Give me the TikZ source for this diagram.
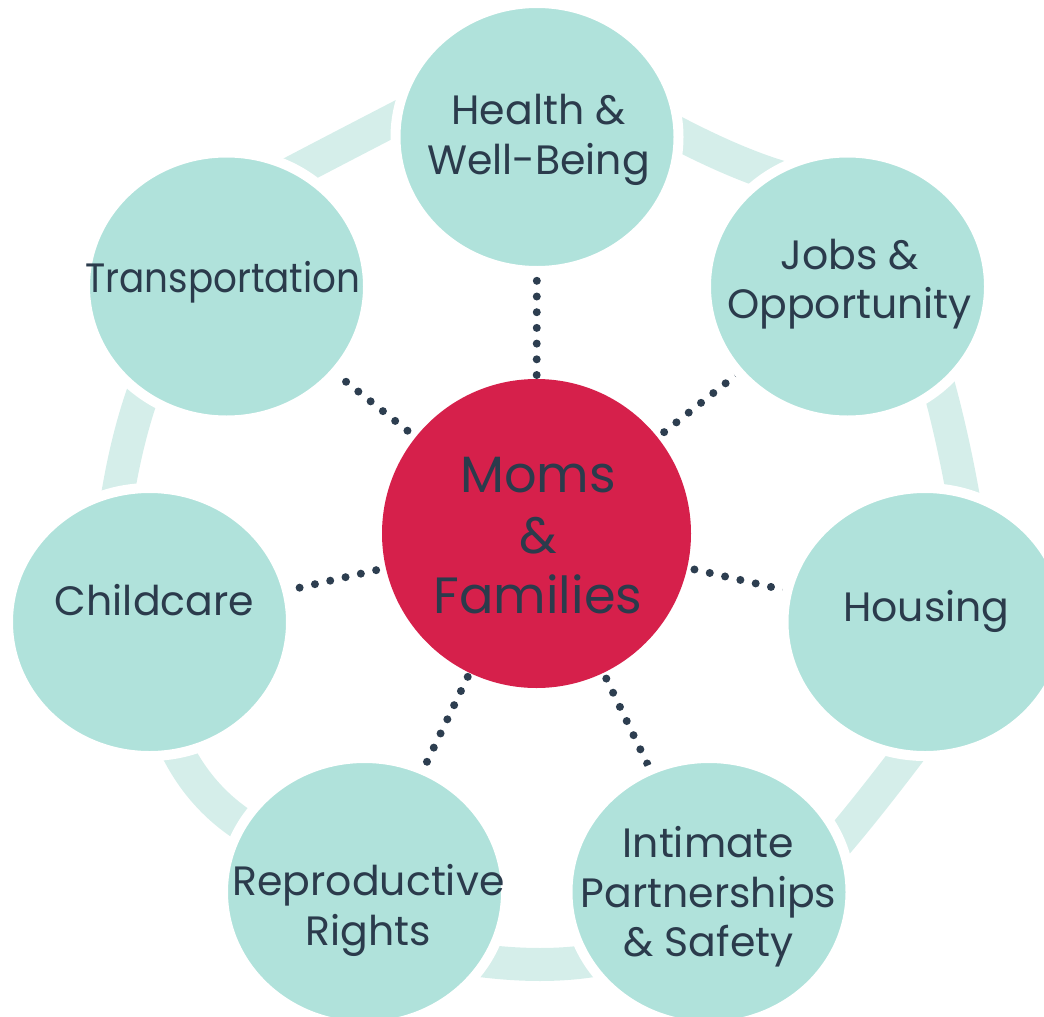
\documentclass[tikz,border=0pt]{standalone}
\usepackage{fontspec}
\usepackage{graphicx}
\setmainfont{Poppins}
\usetikzlibrary{shapes.geometric,calc}
\definecolor{circfill}{HTML}{B0E2DB}
\definecolor{ringc}{HTML}{D5EEEA}
\definecolor{redc}{HTML}{D6204B}
\definecolor{txtc}{HTML}{2B3B4C}
\definecolor{dotc}{HTML}{2D3E50}
\pgfdeclarelayer{background}
\pgfsetlayers{background,main}
% quadratic arc through three points (start, middle, end), extended at both ends
\newcommand\ringarc[3]{%
  \path ($2*(#2)-0.5*(#1)-0.5*(#3)$) coordinate (rc);
  \path ($1.8225*(#1)-0.945*(rc)+0.1225*(#3)$) coordinate (ra);
  \path ($0.1225*(#1)-0.945*(rc)+1.8225*(#3)$) coordinate (rb);
  \path ($1.945*(rc)-0.4725*(#1)-0.4725*(#3)$) coordinate (rq);
  \draw[ringseg] (ra) .. controls ($(ra)!0.6667!(rq)$) and ($(rb)!0.6667!(rq)$) .. (rb);
}
\begin{document}
\begin{tikzpicture}[x=1pt,y=-1pt,
  outer/.style={ellipse, minimum width=283pt, minimum height=268pt, inner sep=0pt,
    fill=circfill, draw=white, line width=10pt},
  hub/.style={circle, minimum size=309pt, inner sep=0pt, fill=redc},
  lbl/.style={text=txtc, align=center, inner sep=0pt, font=\fontsize{41}{49.5}\selectfont},
  hublbl/.style={text=txtc, align=center, inner sep=0pt, font=\fontsize{51}{60.5}\selectfont},
  ringseg/.style={draw=ringc, line width=33pt},
  dotline/.style={draw=dotc, line width=8pt, line cap=round, dash pattern=on 0pt off 15.7pt}]
\useasboundingbox (0,0) rectangle (1044,1017);

% circles
\node[outer] (health) at (537,137) {};
\node[outer] (jobs) at (847.5,286.5) {};
\node[outer] (housing) at (925,622) {};
\node[outer] (intimate) at (709,892) {};
\node[outer] (repro) at (364.5,892) {};
\node[outer] (child) at (149.5,622) {};
\node[outer] (trans) at (226.5,286.5) {};
\node[hub] (hub) at (536.5,533.5) {};

% labels
\node[lbl] (healthtxt) at (538.5,140) {Health \&\\Well-Being};
\node[lbl] (jobstxt) at (849.5,284) {Jobs \&\\Opportunity};
\node[lbl, anchor=base] (housingtxt) at (926.5,621) {Housing};
\node[lbl] (intimatetxt) at (708.5,897) {Intimate\\Partnerships\\\& Safety};
\node[lbl] (reprotxt) at (368.5,910.5) {Reproductive\\Rights};
\node[lbl, anchor=base] (childtxt) at (154.5,615) {Childcare};
\node[lbl, anchor=base] (transtxt) at (223,292) {\scalebox{0.91}[1]{Transportation}};
\node[hublbl] (hubtxt) at (538,536) {Moms\\\&\\Families};

\begin{pgfonlayer}{background}
% ring segments
\ringarc{297,170}{343,146}{397,118}
\ringarc{677,133}{727,157}{771,174}
\ringarc{939,387}{952,440}{963,495}
\ringarc{908,754}{870,803}{838,842}
\ringarc{590,961}{540,964.5}{484,961}
\ringarc{243,825}{206,793}{178,752}
\ringarc{118,493}{129,440}{143,393}
% dotted spokes
\draw[dotline, shorten <=158.5pt, shorten >=143pt] (hub.center) -- (health.center);
\draw[dotline, shorten <=163pt, shorten >=139.2pt] (hub.center) -- (jobs.center);
\draw[dotline, shorten <=162pt, shorten >=141.5pt] (hub.center) -- (housing.center);
\draw[dotline, shorten <=161pt, shorten >=141.8pt] (hub.center) -- (intimate.center);
\draw[dotline, shorten <=159pt, shorten >=143.6pt] (hub.center) -- (repro.center);
\draw[dotline, shorten <=164.5pt, shorten >=137.5pt] (hub.center) -- (child.center);
\draw[dotline, shorten <=165pt, shorten >=136.4pt] (hub.center) -- (trans.center);
\end{pgfonlayer}
\end{tikzpicture}
\end{document}
